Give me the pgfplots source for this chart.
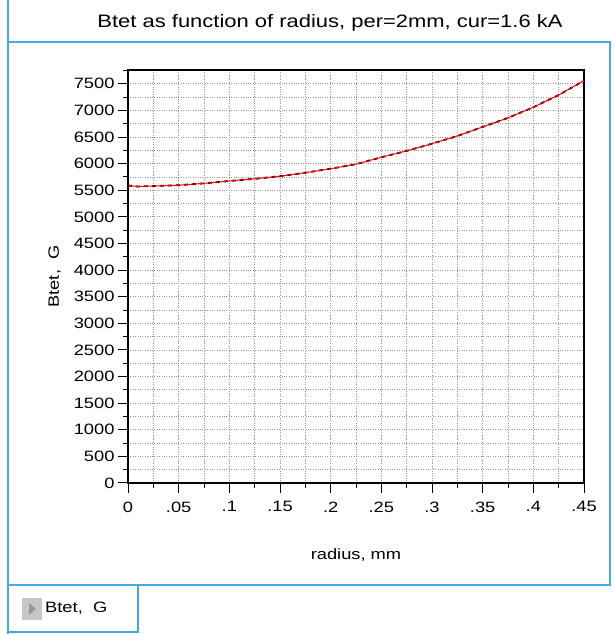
\documentclass[border=0pt]{standalone}
\usepackage{pgfplots}
\pgfplotsset{compat=1.18}
\usepackage{fontspec}
\setmainfont[FakeStretch=1.22]{Liberation Sans}
\definecolor{frameblue}{RGB}{70,170,225}
\definecolor{gridgray}{RGB}{150,150,150}
\begin{document}
\begin{tikzpicture}[x=1pt,y=1pt]
\useasboundingbox (0,0) rectangle (613,634);
\fill[white] (0,0) rectangle (613,634);
% frames
\draw[frameblue, line width=1.5pt] (8,634) -- (8,0);
\draw[frameblue, line width=1.5pt] (8,592) rectangle (610,49);
\draw[frameblue, line width=1.2pt] (8,49) rectangle (138,2);
% legend item
\fill[gray!45] (22,36) rectangle (42,14);
\fill[gray!80] (29,31) -- (36,25) -- (29,19) -- cycle;
\node[anchor=west, font=\fontsize{15}{17}\selectfont, inner sep=0pt] at (45,25.5) {Btet,\ \ G};
% title
\node[font=\fontsize{18}{20}\selectfont] at (330,611) {Btet as function of radius, per=2mm, cur=1.6 kA};
\begin{axis}[
  at={(128pt,151pt)}, anchor=south west,
  scale only axis, width=456pt, height=413pt,
  xmin=0, xmax=0.45, ymin=0, ymax=7760,
  xtick={0,0.05,...,0.451},
  xticklabels={0,.05,.1,.15,.2,.25,.3,.35,.4,.45},
  minor xtick={0.025,0.075,...,0.45},
  ytick={0,500,...,7500},
  minor ytick={250,750,...,7750},
  tick align=outside,
  major tick length=10pt, minor tick length=5pt,
  every tick/.style={black, line width=1pt},
  xtick pos=bottom, ytick pos=left,
  axis line style={line width=1.5pt},
  grid=both,
  major grid style={gridgray, dotted, line width=0.8pt},
  minor grid style={gridgray, dotted, line width=0.8pt},
  ticklabel style={font=\fontsize{15}{17}\selectfont},
  xticklabel style={yshift=-5pt},
  /pgf/number format/assume math mode=true,
  /pgf/number format/1000 sep={},
  xlabel={radius, mm}, ylabel={Btet,\ \ G},
  label style={font=\fontsize{15}{17}\selectfont},
  xlabel style={yshift=-30pt},
  ylabel style={yshift=6pt},
  clip=false,
]
\addplot[black, line width=1.8pt, dash pattern=on 4pt off 4pt] coordinates {
(0,5590) (0.01,5570) (0.025,5580) (0.05,5595) (0.075,5630) (0.1,5675)
(0.125,5715) (0.15,5765) (0.175,5830) (0.2,5905) (0.225,5990) (0.25,6120)
(0.275,6240) (0.3,6375) (0.325,6520) (0.35,6690) (0.375,6860) (0.4,7060)
(0.425,7290) (0.45,7560)};
\addplot[red, line width=1pt] coordinates {
(0,5590) (0.01,5570) (0.025,5580) (0.05,5595) (0.075,5630) (0.1,5675)
(0.125,5715) (0.15,5765) (0.175,5830) (0.2,5905) (0.225,5990) (0.25,6120)
(0.275,6240) (0.3,6375) (0.325,6520) (0.35,6690) (0.375,6860) (0.4,7060)
(0.425,7290) (0.45,7560)};
\end{axis}
\end{tikzpicture}
\end{document}
